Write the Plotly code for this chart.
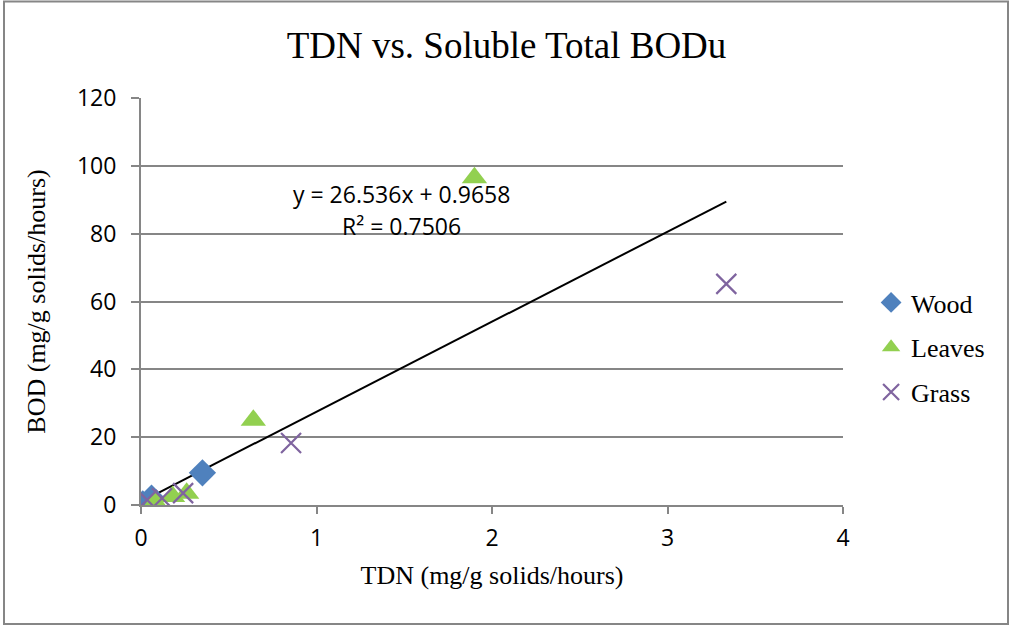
import plotly.graph_objects as go

# Data
wood_x = [0.01, 0.06, 0.35]
wood_y = [0.3, 2.0, 9.5]
leaves_x = [0.08, 0.18, 0.26, 0.64, 1.90]
leaves_y = [0.8, 2.5, 3.5, 25.0, 96.5]
grass_x = [0.035, 0.12, 0.24, 0.855, 3.335]
grass_y = [1.5, 2.0, 3.5, 18.3, 65.2]

slope = 26.536
intercept = 0.9658
r2 = 0.7506

all_x = wood_x + leaves_x + grass_x
trend_x = [min(all_x), max(all_x)]
trend_y = [slope * v + intercept for v in trend_x]

serif = "Liberation Serif"
sans = "Open Sans"
grid = "#868686"

fig = go.Figure()
fig.add_trace(go.Scatter(
    x=trend_x, y=trend_y, mode="lines", line=dict(color="black", width=2),
    showlegend=False, hoverinfo="skip"))
fig.add_trace(go.Scatter(
    x=wood_x, y=wood_y, mode="markers", name="Wood", legendgroup="a",
    marker=dict(symbol="diamond", size=21, color="#4F81BD")))
fig.add_trace(go.Scatter(
    x=leaves_x, y=leaves_y, mode="markers", name="Leaves", legendgroup="b",
    marker=dict(symbol="triangle-up", size=22, color="#92D050")))
fig.add_trace(go.Scatter(
    x=grass_x, y=grass_y, mode="markers", name="Grass", legendgroup="c",
    marker=dict(symbol="x-thin", size=20, line=dict(color="#7F649F", width=2.2))))

fig.update_layout(
    width=1013, height=625,
    margin=dict(l=141, r=170, t=98, b=120),
    paper_bgcolor="white", plot_bgcolor="white",
    title=dict(text="TDN vs. Soluble Total BODu", x=0.5, xref="container",
               xanchor="center", y=0.928, yanchor="middle",
               font=dict(family=serif, size=37, color="black")),
    showlegend=True,
    legend=dict(x=1.04, y=0.387, xanchor="left", yanchor="middle",
                font=dict(family=serif, size=26, color="black"),
                tracegroupgap=8, itemwidth=30, bgcolor="rgba(0,0,0,0)"),
    xaxis=dict(range=[0, 4], tickvals=[0, 1, 2, 3, 4], showgrid=False,
               zeroline=False, showline=True, linecolor=grid, linewidth=2,
               ticks="outside", ticklen=7, tickcolor=grid, tickwidth=2,
               ticklabelstandoff=4,
               tickfont=dict(family=sans, size=23, color="black"),
               title=dict(text="TDN (mg/g solids/hours)", standoff=14,
                          font=dict(family=serif, size=26, color="black"))),
    yaxis=dict(range=[0, 120], tickvals=[0, 20, 40, 60, 80, 100, 120],
               showgrid=True, gridcolor=grid, gridwidth=2,
               zeroline=False, showline=True, linecolor=grid, linewidth=2,
               ticks="outside", ticklen=8, tickcolor=grid, tickwidth=2,
               ticklabelstandoff=10,
               tickfont=dict(family=sans, size=23, color="black"),
               title=dict(text="BOD (mg/g solids/hours)", standoff=24,
                          font=dict(family=serif, size=26, color="black"))),
)

fig.add_annotation(
    x=(401 - 141) / 702, y=(505 - 194) / 407, xref="paper", yref="paper",
    xanchor="center", yanchor="middle",
    text=f"y = {slope}x + {intercept}", showarrow=False,
    font=dict(family=sans, size=23, color="black"))
fig.add_annotation(
    x=(401 - 141) / 702, y=(505 - 226) / 407, xref="paper", yref="paper",
    xanchor="center", yanchor="middle",
    text=f"R² = {r2}", showarrow=False,
    font=dict(family=sans, size=23, color="black"))

fig.add_shape(type="rect", xref="paper", yref="paper",
              x0=(4 - 141) / 702, x1=(1008 - 141) / 702,
              y0=(505 - 624) / 407, y1=(505 - 1.5) / 407,
              line=dict(color=grid, width=2), layer="below")

fig.write_html("out.html")
